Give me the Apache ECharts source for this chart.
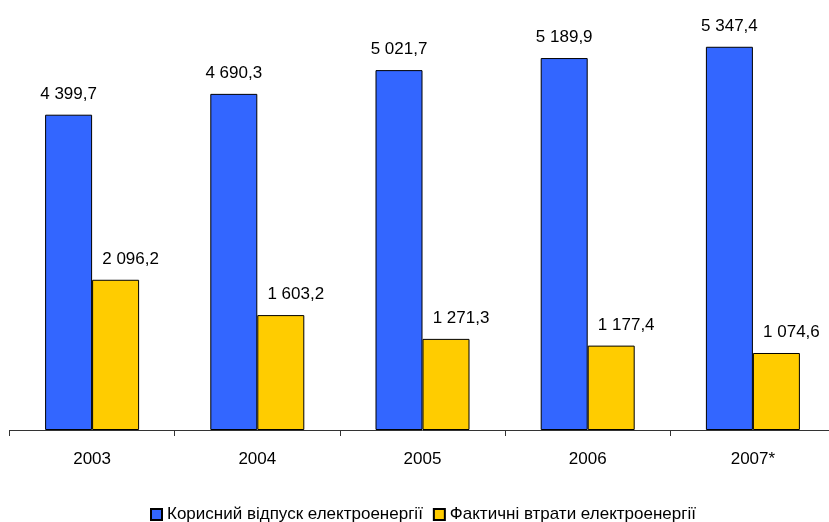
<!DOCTYPE html>
<html><head><meta charset="utf-8">
<script src="https://cdn.jsdelivr.net/npm/echarts@6/dist/echarts.min.js"></script>
<style>html,body{margin:0;padding:0;background:#fff;overflow:hidden}#c{width:842px;height:522px}</style>
</head><body><div id="c"></div>
<script>
var categories = ['2003','2004','2005','2006','2007*'];
var useful = [4399.7, 4690.3, 5021.7, 5189.9, 5347.4];
var losses = [2096.2, 1603.2, 1271.3, 1177.4, 1074.6];
var seriesNames = ['Корисний відпуск електроенергії','Фактичні втрати електроенергії'];

function fmt(v){
  var s = v.toFixed(1).split('.');
  var i = s[0].replace(/\B(?=(\d{3})+(?!\d))/g,' ');
  return i + ',' + s[1];
}
var chart = echarts.init(document.getElementById('c'));
var font = '"Liberation Sans", Arial, sans-serif';
chart.setOption({
  animation:false,
  grid:{left:9.5, top:0, height:430, width:826},
  legend:{top:501, left:145, itemWidth:11, itemHeight:11, itemGap:10,
    textStyle:{fontFamily:font, fontSize:17, color:'#000'},
    data:seriesNames.map(function(n){return {name:n, icon:'rect'};})},
  xAxis:{type:'category', data:categories,
    axisLine:{lineStyle:{color:'#333', width:1}},
    axisTick:{show:true, length:6, lineStyle:{color:'#333'}},
    axisLabel:{fontFamily:font, fontSize:17, color:'#000', margin:21}},
  yAxis:{type:'value', min:0, max:6000, show:false, splitLine:{show:false}},
  series:[
    {name:seriesNames[0], type:'bar', data:useful, barWidth:47, barGap:'0%',
     itemStyle:{color:'#3366FF', borderColor:'#000', borderWidth:1},
     label:{show:true, position:'top', distance:12, fontFamily:font, fontSize:17, color:'#000',
       formatter:function(p){return fmt(p.value);}}},
    {name:seriesNames[1], type:'bar', data:losses, barWidth:47,
     itemStyle:{color:'#FFCC00', borderColor:'#000', borderWidth:1},
     label:{show:true, position:'top', distance:12, offset:[15,0], fontFamily:font, fontSize:17, color:'#000',
       formatter:function(p){return fmt(p.value);}}}
  ]
});
</script></body></html>
